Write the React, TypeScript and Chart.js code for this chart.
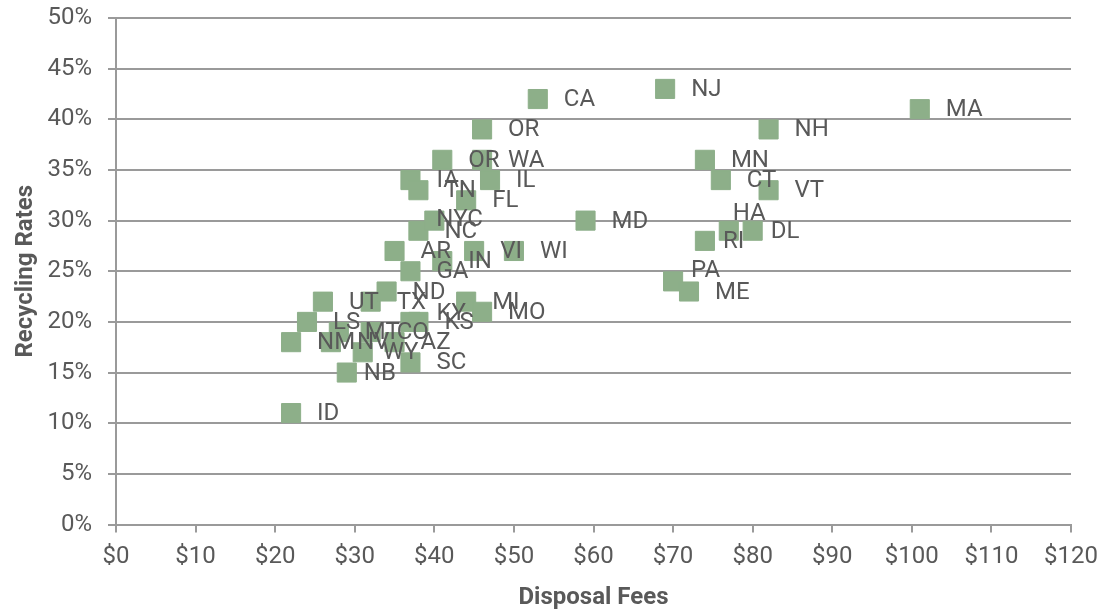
import React, { useEffect, useRef } from 'react';
import { Chart, registerables } from 'chart.js';

Chart.register(...registerables);

// ---- data ----
const states = [
  'ID', 'NB', 'NM', 'LS', 'UT', 'NV', 'MT', 'WY', 'CO', 'TX', 'ND', 'AZ', 'KY', 'KS', 'SC',
  'MI', 'MO', 'AR', 'GA', 'IN', 'VI', 'WI', 'NC', 'NYC', 'FL', 'IA', 'TN', 'IL', 'OR', 'WA',
  'OR', 'CA', 'MD', 'NJ', 'PA', 'ME', 'RI', 'HA', 'DL', 'VT', 'CT', 'MN', 'NH', 'MA',
];
const disposalFees = [
  22, 29, 22, 24, 26, 27, 28, 31, 32, 32, 34, 35, 37, 38, 37,
  44, 46, 35, 37, 41, 45, 50, 38, 40, 44, 37, 38, 47, 41, 46,
  46, 53, 59, 69, 70, 72, 74, 77, 80, 82, 76, 74, 82, 101,
];
const recyclingRates = [
  11, 15, 18, 20, 22, 18, 19, 17, 19, 22, 23, 18, 20, 20, 16,
  22, 21, 27, 25, 26, 27, 27, 29, 30, 32, 34, 33, 34, 36, 36,
  39, 42, 30, 43, 24, 23, 28, 29, 29, 33, 34, 36, 39, 41,
];
const xTickStep = 10;
const xMax = 120;
const yTickStep = 5;
const yMax = 50;

// ---- styling ----
const FONT = "Roboto, 'Open Sans', sans-serif";
const TEXT = '#595959';
const GRID = '#9a9a9a';
const MARKER = 'rgb(141,175,137)';
const FONT_SIZE = 24;

// small manual label nudges (px), as in the reference
const labelNudges: Record<string, [number, number]> = {
  HA: [-22, -18],
  DL: [-8, 0],
  RI: [-8, 0],
  PA: [-8, -11],
  KY: [0, -9],
  NYC: [-24, -2],
  WY: [-6, 0],
  NB: [-9, 0],
};

const labelPlugin = {
  id: 'stateLabels',
  afterDatasetsDraw(chart: any) {
    const ctx = chart.ctx;
    const meta = chart.getDatasetMeta(0);
    ctx.save();
    ctx.font = `${FONT_SIZE}px ${FONT}`;
    ctx.fillStyle = TEXT;
    ctx.textBaseline = 'middle';
    ctx.textAlign = 'left';
    meta.data.forEach((el: any, i: number) => {
      const n = labelNudges[states[i]] || [0, 0];
      ctx.fillText(states[i], el.x + 26 + n[0], el.y + 1 + n[1]);
    });
    ctx.restore();
  },
};

export default function App() {
  const canvasRef = useRef<HTMLCanvasElement | null>(null);

  useEffect(() => {
    if (!canvasRef.current) return;
    const points = disposalFees.map((x, i) => ({ x, y: recyclingRates[i] }));
    const chart = new Chart(canvasRef.current, {
      type: 'scatter',
      data: {
        datasets: [
          {
            data: points,
            pointStyle: 'rect',
            pointRadius: 13.5,
            pointHoverRadius: 13.5,
            backgroundColor: MARKER,
            borderColor: MARKER,
            borderWidth: 1,
          },
        ],
      },
      options: {
        animation: false,
        responsive: true,
        maintainAspectRatio: false,
        layout: { padding: { left: 8, right: 32, top: 18, bottom: 0 } },
        plugins: {
          legend: { display: false },
          tooltip: { enabled: false },
        },
        scales: {
          x: {
            type: 'linear',
            min: 0,
            max: xMax,
            ticks: {
              stepSize: xTickStep,
              callback: (v: any) => '$' + v,
              color: TEXT,
              font: { family: FONT, size: FONT_SIZE },
              padding: 10,
              maxRotation: 0,
              autoSkip: false,
            },
            grid: {
              drawOnChartArea: false,
              drawTicks: true,
              tickLength: 8,
              color: GRID,
              lineWidth: 2,
            },
            border: { display: true, color: GRID, width: 2 },
            title: {
              display: true,
              text: 'Disposal Fees',
              color: TEXT,
              font: { family: FONT, size: FONT_SIZE, weight: 'bold', lineHeight: 1 },
              padding: { top: 0, bottom: 0 },
            },
            afterFit: (s: any) => {
              s.height = 85.5;
              s.paddingLeft = 0;
              s.paddingRight = 0;
            },
          },
          y: {
            type: 'linear',
            min: 0,
            max: yMax,
            ticks: {
              stepSize: yTickStep,
              callback: (v: any) => v + '%',
              color: TEXT,
              font: { family: FONT, size: FONT_SIZE },
              padding: 16,
            },
            grid: {
              drawOnChartArea: true,
              drawTicks: true,
              tickLength: 8,
              color: GRID,
              lineWidth: 2,
            },
            border: { display: true, color: GRID, width: 2 },
            title: {
              display: true,
              text: 'Recycling Rates',
              color: TEXT,
              font: { family: FONT, size: FONT_SIZE, weight: 'bold' },
              padding: { top: 4, bottom: 0 },
            },
            afterFit: (s: any) => {
              s.width = 108;
              s.paddingTop = 0;
              s.paddingBottom = 0;
            },
          },
        },
      },
      plugins: [labelPlugin],
    });
    return () => chart.destroy();
  }, []);

  return (
    <div style={{ position: 'absolute', left: 0, top: 0, width: 1103, height: 610 }}>
      <canvas ref={canvasRef} />
    </div>
  );
}
